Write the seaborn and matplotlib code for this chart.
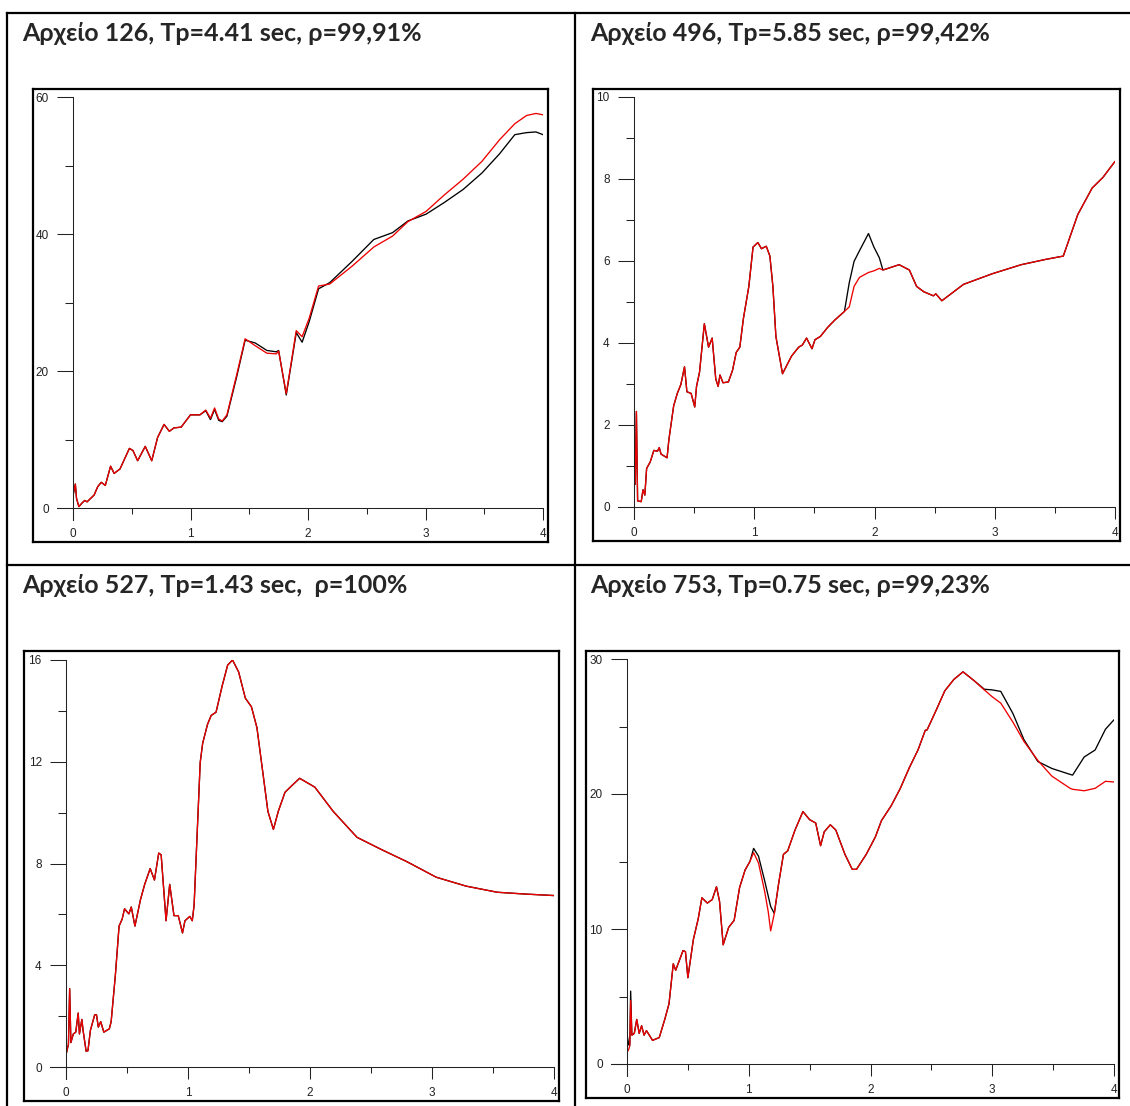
import numpy as np
import pandas as pd
import matplotlib
matplotlib.use("Agg")
import matplotlib.pyplot as plt
from matplotlib.lines import Line2D
import seaborn as sns

# ---------------- data ----------------
TITLES = [
    "Αρχείο 126, Tp=4.41 sec, ρ=99,91%",
    "Αρχείο 496, Tp=5.85 sec, ρ=99,42%",
    "Αρχείο 527, Tp=1.43 sec,  ρ=100%",
    "Αρχείο 753, Tp=0.75 sec, ρ=99,23%",
]

X_126 = [0, 0.02, 0.03, 0.05, 0.075, 0.1, 0.12, 0.15, 0.18, 0.21, 0.24, 0.275, 0.32, 0.35, 0.4,
         0.48, 0.51, 0.55, 0.615, 0.67, 0.72, 0.775, 0.82, 0.86, 0.92, 1.0, 1.08, 1.13,
         1.17, 1.205, 1.24, 1.27, 1.31, 1.395, 1.465, 1.55, 1.65, 1.73, 1.75, 1.815, 1.90,
         1.95, 2.01, 2.09, 2.185, 2.375, 2.56, 2.72, 2.85, 3.005, 3.16, 3.32, 3.48, 3.63,
         3.76, 3.86, 3.94, 4.0]
RED_126 = [1.8, 3.5, 1.4, 0.2, 0.7, 1.1, 0.9, 1.4, 1.9, 3.1, 3.75, 3.3, 6.1, 5.05, 5.7,
           8.7, 8.4, 6.9, 9.0, 6.9, 10.3, 12.2, 11.2, 11.7, 11.8, 13.6, 13.6, 14.3,
           13.1, 14.6, 13.0, 12.7, 13.6, 19.6, 24.7, 23.7, 22.6, 22.5, 22.9, 16.7, 25.9,
           25.0, 27.7, 32.4, 32.7, 35.3, 38.1, 39.7, 41.8, 43.3, 45.7, 48.0, 50.6, 53.75,
           56.1, 57.3, 57.6, 57.4]
BLACK_126 = [1.8, 3.5, 1.4, 0.2, 0.7, 1.1, 0.9, 1.4, 1.9, 3.1, 3.75, 3.3, 6.1, 5.05, 5.7,
             8.7, 8.4, 6.9, 9.0, 6.9, 10.3, 12.2, 11.2, 11.7, 11.8, 13.6, 13.6, 14.2,
             12.9, 14.4, 12.8, 12.6, 13.4, 19.3, 24.5, 24.1, 23.0, 22.8, 23.0, 16.5, 25.6,
             24.2, 27.2, 32.0, 32.9, 36.0, 39.2, 40.2, 41.9, 42.9, 44.6, 46.5, 48.9, 51.7,
             54.5, 54.8, 54.9, 54.5]

X_496 = [0, 0.01, 0.02, 0.03, 0.06, 0.075, 0.09, 0.105, 0.135, 0.165, 0.195, 0.21, 0.225,
         0.275, 0.29, 0.33, 0.36, 0.39, 0.42, 0.44, 0.475, 0.505, 0.52, 0.545, 0.585,
         0.62, 0.65, 0.68, 0.70, 0.715, 0.74, 0.785, 0.82, 0.85, 0.88, 0.91, 0.955, 0.99,
         1.03, 1.06, 1.10, 1.13, 1.155, 1.18, 1.235, 1.31, 1.37, 1.40, 1.435, 1.48, 1.505,
         1.55, 1.61, 1.67, 1.75, 1.79, 1.83, 1.875, 1.95, 1.995, 2.04, 2.07, 2.205, 2.29,
         2.35, 2.41, 2.49, 2.51, 2.56, 2.74, 2.98, 3.22, 3.425, 3.57, 3.69, 3.81, 3.90, 4.0]
RED_496 = [0.9, 0.55, 2.33, 0.15, 0.13, 0.42, 0.29, 0.94, 1.1, 1.38, 1.36, 1.45, 1.29,
           1.2, 1.64, 2.47, 2.77, 2.99, 3.42, 2.81, 2.77, 2.44, 2.94, 3.29, 4.47,
           3.9, 4.12, 3.12, 2.94, 3.22, 3.03, 3.05, 3.34, 3.77, 3.9, 4.6, 5.38, 6.34,
           6.45, 6.3, 6.36, 6.12, 5.38, 4.16, 3.25, 3.68, 3.9, 3.95, 4.12, 3.86, 4.08,
           4.16, 4.38, 4.56, 4.77, 4.88, 5.38, 5.6, 5.72, 5.76, 5.82, 5.78, 5.91, 5.78,
           5.38, 5.25, 5.15, 5.2, 5.03, 5.43, 5.69, 5.91, 6.04, 6.12, 7.13, 7.78, 8.04, 8.43]
BLACK_496 = [1.2, 0.55, 2.33, 0.15, 0.13, 0.42, 0.29, 0.94, 1.1, 1.38, 1.36, 1.45, 1.29,
             1.2, 1.64, 2.47, 2.77, 2.99, 3.42, 2.81, 2.77, 2.44, 2.94, 3.29, 4.47,
             3.9, 4.12, 3.12, 2.94, 3.22, 3.03, 3.05, 3.34, 3.77, 3.9, 4.6, 5.38, 6.34,
             6.45, 6.3, 6.36, 6.12, 5.38, 4.16, 3.25, 3.68, 3.9, 3.95, 4.12, 3.86, 4.08,
             4.16, 4.38, 4.56, 4.77, 5.47, 5.99, 6.25, 6.67, 6.34, 6.08, 5.78, 5.91, 5.78,
             5.38, 5.25, 5.15, 5.2, 5.03, 5.43, 5.69, 5.91, 6.04, 6.12, 7.13, 7.78, 8.04, 8.43]

X_527 = [0, 0.02, 0.03, 0.04, 0.06, 0.08, 0.10, 0.11, 0.13, 0.14, 0.165, 0.18, 0.20, 0.235,
         0.25, 0.265, 0.285, 0.31, 0.355, 0.37, 0.405, 0.435, 0.46, 0.48, 0.515, 0.535,
         0.565, 0.61, 0.645, 0.69, 0.725, 0.76, 0.78, 0.82, 0.85, 0.885, 0.92, 0.955,
         0.975, 1.015, 1.035, 1.05, 1.10, 1.12, 1.16, 1.19, 1.23, 1.28, 1.325, 1.365,
         1.415, 1.47, 1.52, 1.565, 1.61, 1.655, 1.70, 1.74, 1.795, 1.855, 1.915, 2.04,
         2.19, 2.385, 2.585, 2.795, 3.035, 3.28, 3.535, 3.76, 4.0]
RED_527 = [0.48, 0.89, 3.08, 0.96, 1.3, 1.37, 2.12, 1.3, 1.87, 1.44, 0.62, 0.64, 1.44, 2.05,
           2.05, 1.57, 1.78, 1.37, 1.5, 1.78, 3.63, 5.54, 5.81, 6.22, 6.02, 6.29,
           5.54, 6.57, 7.18, 7.8, 7.35, 8.41, 8.34, 5.75, 7.18, 5.95, 5.95, 5.27,
           5.75, 5.92, 5.75, 6.36, 11.97, 12.72, 13.47, 13.82, 13.95, 14.98, 15.8, 16.0,
           15.53, 14.5, 14.16, 13.34, 11.7, 10.05, 9.34, 10.05, 10.8, 11.08, 11.35, 11.0,
           10.05, 9.03, 8.55, 8.07, 7.46, 7.11, 6.87, 6.8, 6.74]
BLACK_527 = list(RED_527)  # ρ = 100 %: both curves coincide

X_753 = [0, 0.015, 0.023, 0.03, 0.04, 0.06, 0.08, 0.10, 0.12, 0.14, 0.16, 0.21, 0.265,
         0.31, 0.345, 0.38, 0.40, 0.425, 0.46, 0.48, 0.50, 0.545, 0.585, 0.615, 0.66,
         0.70, 0.735, 0.76, 0.79, 0.835, 0.88, 0.925, 0.97, 1.01, 1.04, 1.08, 1.13,
         1.16, 1.18, 1.21, 1.245, 1.285, 1.32, 1.38, 1.445, 1.50, 1.55, 1.59, 1.62,
         1.67, 1.715, 1.79, 1.85, 1.885, 1.965, 2.04, 2.09, 2.17, 2.245, 2.32, 2.39,
         2.45, 2.465, 2.54, 2.61, 2.685, 2.76, 2.85, 2.935, 3.0, 3.07, 3.17, 3.26,
         3.375, 3.49, 3.64, 3.66, 3.755, 3.845, 3.93, 4.0]
RED_753 = [0.85, 1.1, 1.36, 4.7, 2.14, 2.27, 3.3, 2.27, 2.83, 2.14, 2.47, 1.75, 1.96,
           3.3, 4.46, 7.42, 6.95, 7.55, 8.4, 8.32, 6.39, 9.22, 10.76, 12.31, 11.92,
           12.18, 13.13, 12.05, 8.83, 10.12, 10.64, 13.08, 14.37, 15.01, 15.66, 14.89, 12.82,
           11.28, 9.86, 11.15, 13.34, 15.53, 15.79, 17.33, 18.7, 18.1, 17.85, 16.17, 17.2,
           17.72, 17.33, 15.53, 14.42, 14.42, 15.53, 16.82, 18.03, 19.13, 20.42, 21.97, 23.26,
           24.72, 24.75, 26.22, 27.64, 28.49, 29.05, 28.4, 27.71, 27.2, 26.73, 25.32, 23.9,
           22.48, 21.32, 20.42, 20.35, 20.24, 20.42, 20.94, 20.89]
BLACK_753 = [2.2, 1.4, 1.4, 5.4, 2.14, 2.27, 3.3, 2.27, 2.83, 2.14, 2.47, 1.75, 1.96,
             3.3, 4.46, 7.42, 6.95, 7.55, 8.4, 8.32, 6.39, 9.22, 10.76, 12.31, 11.92,
             12.18, 13.13, 12.05, 8.83, 10.12, 10.64, 13.08, 14.37, 15.01, 15.97, 15.4, 13.6,
             12.44, 11.67, 11.15, 13.34, 15.53, 15.79, 17.33, 18.7, 18.1, 17.85, 16.17, 17.2,
             17.72, 17.33, 15.53, 14.42, 14.42, 15.53, 16.82, 18.03, 19.13, 20.42, 21.97, 23.26,
             24.72, 24.75, 26.22, 27.64, 28.49, 29.05, 28.4, 27.76, 27.71, 27.6, 25.96, 24.03,
             22.4, 21.89, 21.45, 21.4, 22.74, 23.26, 24.8, 25.5]

X_MAJOR = [0, 1, 2, 3, 4]
X_MINOR = [0.5, 1.5, 2.5, 3.5]
Y_MAJOR = [[0, 20, 40, 60], [0, 2, 4, 6, 8, 10], [0, 4, 8, 12, 16], [0, 10, 20, 30]]
Y_MINOR = [[10, 30, 50], [1, 3, 5, 7, 9], [2, 6, 10, 14], [5, 15, 25]]

SERIES = [(X_126, BLACK_126, RED_126), (X_496, BLACK_496, RED_496),
          (X_527, BLACK_527, RED_527), (X_753, BLACK_753, RED_753)]

# ---------------- layout (pixels) ----------------
W, H = 1130, 1106
sns.set_style("white")
plt.rcParams["font.family"] = ["Liberation Sans", "DejaVu Sans"]

fig = plt.figure(figsize=(W / 100, H / 100), dpi=100)


def frac_rect(l, t, r, b):
    return [l / W, 1 - b / H, (r - l) / W, (b - t) / H]


# (box l,t,r,b), (axes l,t,r,b), title x, title baseline
PANELS = [
    ((33, 89, 548, 542), (73, 97, 543, 508), 22, 41),
    ((593, 89, 1120, 541), (634, 97, 1115, 507), 590, 41),
    ((24, 651, 559, 1101), (66, 660, 554, 1067), 22, 593),
    ((586, 651, 1119, 1098), (627, 659, 1114, 1064), 590, 593),
]

# table grid lines
LW_TABLE = 1.6
for (xs, ys) in [((7, 1130), (13, 13)), ((7, 1130), (565, 565)),
                 ((7, 7), (13, 1106)), ((575, 575), (13, 1106))]:
    fig.add_artist(Line2D([x / W for x in xs], [1 - y / H for y in ys],
                          transform=fig.transFigure, color="black", lw=LW_TABLE,
                          solid_capstyle="projecting"))

for i, (box, arect, tx, ty) in enumerate(PANELS):
    # outer frame
    bax = fig.add_axes(frac_rect(*box))
    bax.set_xticks([]); bax.set_yticks([])
    bax.patch.set_alpha(0)
    for s in bax.spines.values():
        s.set_linewidth(1.6); s.set_color("black"); s.set_visible(True)

    ax = fig.add_axes(frac_rect(*arect))
    ax.patch.set_alpha(0)
    xs, yb, yr = SERIES[i]
    df = pd.DataFrame({"x": xs, "black": yb, "red": yr})
    sns.lineplot(data=df, x="x", y="black", ax=ax, color="black", lw=0.95,
                 estimator=None, sort=False)
    sns.lineplot(data=df, x="x", y="red", ax=ax, color="#ee0000", lw=0.95,
                 estimator=None, sort=False)
    ymax = Y_MAJOR[i][-1]
    ax.set_xlim(0, 4)
    ax.set_ylim(0, ymax)
    ax.set_xlabel(""); ax.set_ylabel("")
    ax.set_xticks(X_MAJOR)
    ax.set_xticks(X_MINOR, minor=True)
    ax.set_yticks(Y_MAJOR[i])
    ax.set_yticks(Y_MINOR[i], minor=True)
    ax.set_xticklabels([str(v) for v in X_MAJOR])
    ax.set_yticklabels([str(v) for v in Y_MAJOR[i]])
    ax.tick_params(axis="x", which="major", length=8.6, width=0.75, pad=6.0,
                   direction="out", labelsize=8.5, colors="#222222")
    ax.tick_params(axis="x", which="minor", length=4.6, width=0.75, direction="out",
                   colors="#222222")
    ax.tick_params(axis="y", which="major", length=11.5, width=0.75, pad=6.0,
                   direction="out", labelsize=8.5, colors="#222222")
    ax.tick_params(axis="y", which="minor", length=6.1, width=0.75, direction="out",
                   colors="#222222")
    ax.tick_params(bottom=True, left=True, which="both")
    for s in ["top", "right"]:
        ax.spines[s].set_visible(False)
    # extend axis lines to the tick ends
    wpx = arect[2] - arect[0]; hpx = arect[3] - arect[1]
    ax.spines["bottom"].set_bounds(-16 / wpx * 4, 4)
    ax.spines["left"].set_bounds(-12 / hpx * ymax, ymax)
    for s in ["bottom", "left"]:
        ax.spines[s].set_linewidth(0.75)
        ax.spines[s].set_color("#222222")
        ax.spines[s].set_clip_on(False)

    fig.text(tx / W, 1 - ty / H, TITLES[i], fontsize=18, fontweight="bold",
             family=["Lato", "Open Sans", "DejaVu Sans"], va="baseline", ha="left")

fig.savefig("out.png", dpi=100)
